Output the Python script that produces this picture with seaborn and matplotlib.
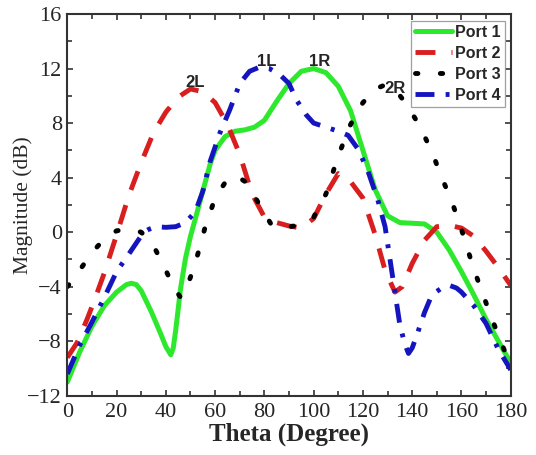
import matplotlib
matplotlib.use("Agg")
import matplotlib.pyplot as plt
from matplotlib.ticker import MultipleLocator
import seaborn as sns

# Port 1
theta_p1 = [0, 5, 10, 15, 20, 24, 26, 28, 30, 34, 38, 40, 42, 43, 44, 46, 48, 50,
            52, 55, 58, 60, 64, 68, 72, 76, 80, 85, 90, 95, 100, 105, 110, 115,
            120, 125, 130, 135, 140, 145, 150, 155, 160, 165, 170, 175, 180]
mag_p1 = [-11.0, -8.8, -6.9, -5.4, -4.4, -3.85, -3.75, -3.85, -4.3, -5.8, -7.5, -8.4,
          -9.0, -8.5, -7.2, -4.1, -1.9, -0.3, 1.0, 3.0, 5.0, 6.0, 7.0, 7.4, 7.5,
          7.7, 8.2, 9.6, 10.9, 11.8, 12.0, 11.7, 10.7, 8.9, 6.0, 3.1, 1.2, 0.7,
          0.65, 0.6, 0.0, -1.3, -2.9, -4.6, -6.4, -8.0, -9.6]

# Port 2
theta_p2 = [0, 4, 8, 11, 15, 20, 25, 30, 35, 40, 45, 50, 55, 60, 65, 70, 75, 80,
            85, 90, 95, 100, 105, 110, 115, 120, 125, 129, 133, 136, 140, 145,
            150, 155, 160, 165, 170, 175, 180]
mag_p2 = [-9.2, -8.1, -6.4, -5.0, -3.0, -0.2, 2.7, 5.1, 7.3, 8.8, 9.9, 10.5, 10.3,
          9.5, 7.9, 5.7, 2.8, 1.1, 0.7, 0.45, 0.3, 1.0, 2.8, 4.3, 3.7, 2.5, -0.2,
          -2.8, -4.4, -4.0, -2.3, -0.6, 0.4, 0.5, 0.3, -0.3, -1.4, -2.6, -3.9]

# Port 3
theta_p3 = [0, 5, 10, 15, 20, 25, 30, 35, 40, 43, 46, 48, 50, 53, 56, 60, 65, 69,
            73, 78, 83, 87, 92, 96, 100, 105, 110, 115, 120, 125, 129, 133, 138,
            143, 148, 152, 156, 160, 165, 170, 175, 180]
mag_p3 = [-4.0, -2.8, -1.5, -0.5, 0.1, 0.2, 0.0, -1.0, -2.8, -4.0, -4.8, -4.3,
          -3.3, -1.6, 0.4, 2.5, 3.9, 4.1, 3.6, 2.0, 0.5, 0.3, 0.45, 0.7, 1.1, 2.8,
          5.6, 7.9, 9.5, 10.5, 10.8, 10.5, 9.3, 7.8, 5.9, 4.0, 2.3, 0.2, -2.7,
          -5.2, -7.6, -9.8]

# Port 4
theta_p4 = [0, 5, 10, 15, 20, 25, 28, 31, 33, 36, 40, 44, 48, 52, 55, 58, 62, 66,
            70, 74, 78, 82, 86, 90, 93, 97, 100, 105, 110, 114, 118, 122, 126,
            129, 131, 133, 135, 137, 138.5, 140, 142, 145, 148, 152, 155, 158,
            160, 165, 170, 175, 180]
mag_p4 = [-10.4, -8.3, -6.6, -4.8, -2.9, -1.6, -0.8, 0.0, 0.2, 0.4, 0.35, 0.4, 0.7,
          1.5, 3.0, 5.2, 7.3, 9.0, 10.9, 11.8, 12.1, 12.0, 11.6, 10.9, 9.7, 8.6,
          8.0, 7.7, 7.4, 7.1, 6.1, 4.5, 2.4, 0.4, -2.0, -4.4, -6.8, -8.2, -8.9,
          -8.5, -7.5, -5.9, -4.6, -4.1, -3.9, -4.1, -4.4, -5.4, -6.7, -8.6, -10.1]

port_labels = ["Port 1", "Port 2", "Port 3", "Port 4"]
x_ticks = [0, 20, 40, 60, 80, 100, 120, 140, 160, 180]
y_ticks = [-12, -8, -4, 0, 4, 8, 12, 16]

# beam labels: text, theta, magnitude
beam_names = ["1L", "1R", "2L", "2R"]
beam_theta = [81, 102.6, 51.9, 133]
beam_mag = [12.5, 12.5, 11.0, 10.5]

sns.set_style("white")
plt.rcParams["font.family"] = ["Liberation Serif", "DejaVu Serif"]

fig = plt.figure(figsize=(5.36, 4.55), dpi=100)
ax = fig.add_axes([0.1256, 0.1303, 0.8272, 0.8389])

styles = [
    dict(color="#2ee82e", lw=3.6, linestyle="-"),
    dict(color="#d81e1e", lw=3.5, linestyle=(0, (4.1, 3.3))),
    dict(color="#000000", lw=3.5, linestyle=(0, (0.5, 4.6)), dash_capstyle="round"),
    dict(color="#1515c0", lw=3.5, linestyle=(0, (3.9, 2.3, 0.8, 2.3))),
]
series = [(theta_p1, mag_p1), (theta_p2, mag_p2), (theta_p3, mag_p3), (theta_p4, mag_p4)]

for (tx, my), lab, st in zip(series, port_labels, styles):
    sns.lineplot(x=tx, y=my, ax=ax, label=lab, sort=False, **st)

ax.set_xlim(0, 180)
ax.set_ylim(-12, 16)
ax.set_xticks(x_ticks)
ax.set_yticks(y_ticks)
ax.xaxis.set_minor_locator(MultipleLocator(10))
ax.yaxis.set_minor_locator(MultipleLocator(2))
ax.tick_params(which="both", direction="in", top=True, right=True,
               bottom=True, left=True, width=1.2, color="#333333")
ax.tick_params(which="major", length=4.5, labelsize=16)
ax.tick_params(axis="x", which="major", pad=5)
ax.tick_params(axis="y", which="major", pad=4)
ax.tick_params(which="minor", length=3.5)
for sp in ax.spines.values():
    sp.set_linewidth(1.5)
    sp.set_color("#333333")

ax.set_xlabel("Theta (Degree)", fontsize=18, fontweight="bold", labelpad=1)
ax.set_ylabel("Magnitude (dB)", fontsize=15.5, labelpad=-4)

for name, tx, my in zip(beam_names, beam_theta, beam_mag):
    ax.text(tx, my, name, ha="center", va="center", fontsize=12,
            fontweight="bold", family=["Liberation Sans", "DejaVu Sans"])

leg = ax.legend(loc="upper right", bbox_to_anchor=(0.987, 0.982), borderaxespad=0,
                frameon=True, fancybox=False, edgecolor="#888888",
                handlelength=2.3, handletextpad=0.2, borderpad=0.25,
                labelspacing=0.38,
                prop=dict(family=["Liberation Sans", "DejaVu Sans"], weight="bold", size=11.5))
leg.get_frame().set_linewidth(0.9)

fig.savefig("out.png", dpi=100)
